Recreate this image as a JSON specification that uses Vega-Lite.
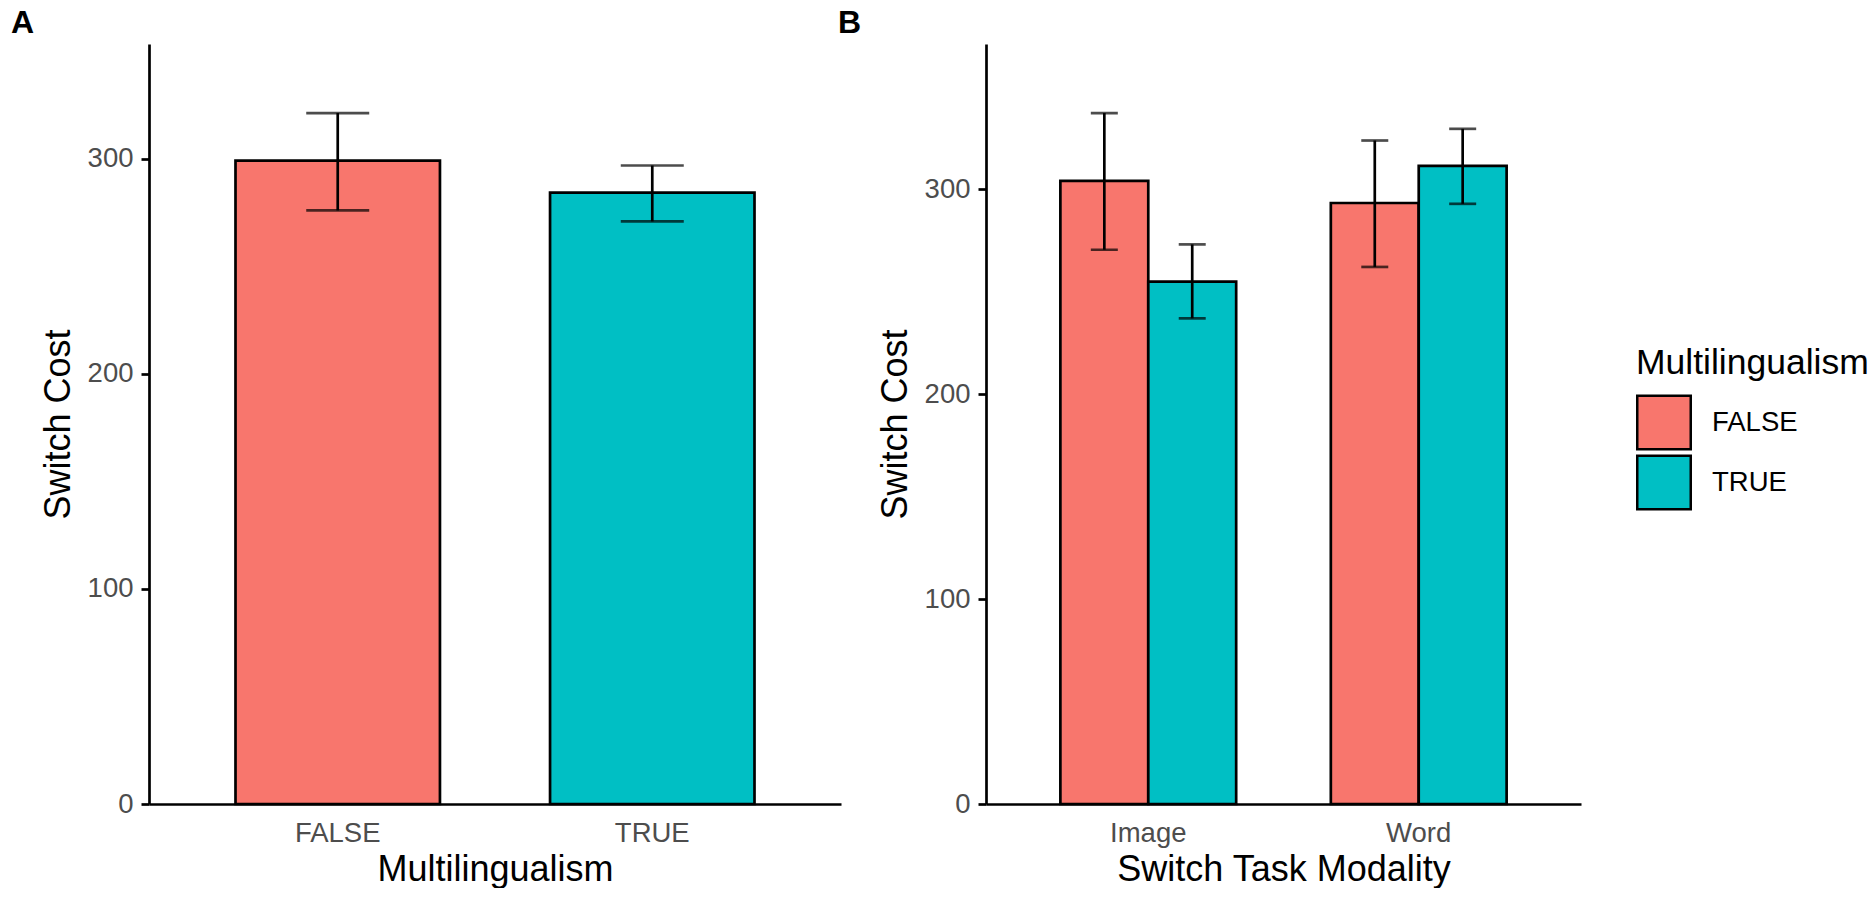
{
  "$schema": "https://vega.github.io/schema/vega-lite/v6.json",
  "background": "white",
  "padding": {"left": 11, "top": 7, "right": 0, "bottom": 0},
  "spacing": -3,
  "config": {
    "font": "Liberation Sans",
    "view": {"stroke": null},
    "axis": {
      "domainColor": "black", "domainWidth": 2.7,
      "tickColor": "black", "tickWidth": 2.7, "tickSize": 8,
      "labelFontSize": 27.5, "labelColor": "#4D4D4D", "labelPadding": 8,
      "titleFontSize": 36, "titleColor": "black", "titleFontWeight": "normal",
      "grid": false
    },
    "axisX": {"ticks": false, "labelAngle": 0, "labelPadding": 15, "titlePadding": 6},
    "axisY": {"titlePadding": 10},
    "title": {"fontSize": 32, "fontWeight": "bold", "anchor": "start", "frame": "bounds", "color": "black", "offset": 4},
    "legend": {
      "titleFontSize": 35.5, "titleFontWeight": "normal", "titleColor": "black", "titleLimit": 600,
      "labelFontSize": 27.5, "labelColor": "black", "labelLimit": 400,
      "symbolType": "square", "symbolSize": 2862, "symbolStrokeColor": "black",
      "symbolStrokeWidth": 2.5, "symbolOpacity": 1, "labelOffset": 20,
      "rowPadding": -10, "titlePadding": 13
    }
  },
  "datasets": {
    "a": [
      {"Multilingualism": "FALSE", "mean": 299.2, "lo": 276.0, "hi": 321.3},
      {"Multilingualism": "TRUE", "mean": 284.3, "lo": 270.9, "hi": 296.9}
    ],
    "b": [
      {"Modality": "Image", "Multilingualism": "FALSE", "mean": 304.1, "lo": 270.5, "hi": 337.2},
      {"Modality": "Image", "Multilingualism": "TRUE", "mean": 254.9, "lo": 237.0, "hi": 273.1},
      {"Modality": "Word", "Multilingualism": "FALSE", "mean": 293.3, "lo": 262.1, "hi": 323.8},
      {"Modality": "Word", "Multilingualism": "TRUE", "mean": 311.4, "lo": 292.9, "hi": 329.5}
    ]
  },
  "resolve": {"legend": {"color": "independent"}},
  "hconcat": [
    {
      "title": {"text": "A", "dx": -29},
      "width": 692, "height": 760,
      "data": {"name": "a"},
      "encoding": {
        "x": {"field": "Multilingualism", "type": "nominal",
              "scale": {"paddingInner": 0.35, "paddingOuter": 0.275},
              "axis": {"title": "Multilingualism"}}
      },
      "layer": [
        {
          "mark": {"type": "bar", "stroke": "black", "strokeWidth": 2.7},
          "encoding": {
            "y": {"field": "mean", "type": "quantitative",
                  "scale": {"domain": [0, 353.4], "nice": false},
                  "axis": {"values": [0, 100, 200, 300], "title": "Switch Cost"}},
            "color": {"field": "Multilingualism", "type": "nominal",
                      "scale": {"domain": ["FALSE", "TRUE"], "range": ["#F8766D", "#00BFC4"]},
                      "legend": null}
          }
        },
        {
          "mark": {"type": "rule", "strokeWidth": 2.7, "color": "black"},
          "encoding": {"y": {"field": "lo", "type": "quantitative"}, "y2": {"field": "hi"}}
        },
        {
          "mark": {"type": "tick", "color": "black", "thickness": 2.7, "size": 63},
          "encoding": {"y": {"field": "lo", "type": "quantitative"}}
        },
        {
          "mark": {"type": "tick", "color": "black", "thickness": 2.7, "size": 63},
          "encoding": {"y": {"field": "hi", "type": "quantitative"}}
        }
      ]
    },
    {
      "title": {"text": "B", "dx": -39},
      "width": 595, "height": 760,
      "data": {"name": "b"},
      "encoding": {
        "x": {"field": "Modality", "type": "nominal",
              "scale": {"paddingInner": 0.35, "paddingOuter": 0.275},
              "axis": {"title": "Switch Task Modality"}},
        "xOffset": {"field": "Multilingualism", "type": "nominal", "scale": {"paddingInner": 0, "paddingOuter": 0}}
      },
      "layer": [
        {
          "mark": {"type": "bar", "stroke": "black", "strokeWidth": 2.7},
          "encoding": {
            "y": {"field": "mean", "type": "quantitative",
                  "scale": {"domain": [0, 370.9], "nice": false},
                  "axis": {"values": [0, 100, 200, 300], "title": "Switch Cost"}},
            "color": {"field": "Multilingualism", "type": "nominal",
                      "scale": {"domain": ["FALSE", "TRUE"], "range": ["#F8766D", "#00BFC4"]},
                      "legend": {"title": "Multilingualism", "orient": "none", "legendX": 650, "legendY": 302}}
          }
        },
        {
          "mark": {"type": "rule", "strokeWidth": 2.7, "color": "black"},
          "encoding": {"y": {"field": "lo", "type": "quantitative"}, "y2": {"field": "hi"}}
        },
        {
          "mark": {"type": "tick", "color": "black", "thickness": 2.7, "size": 27},
          "encoding": {"y": {"field": "lo", "type": "quantitative"}}
        },
        {
          "mark": {"type": "tick", "color": "black", "thickness": 2.7, "size": 27},
          "encoding": {"y": {"field": "hi", "type": "quantitative"}}
        }
      ]
    }
  ]
}
